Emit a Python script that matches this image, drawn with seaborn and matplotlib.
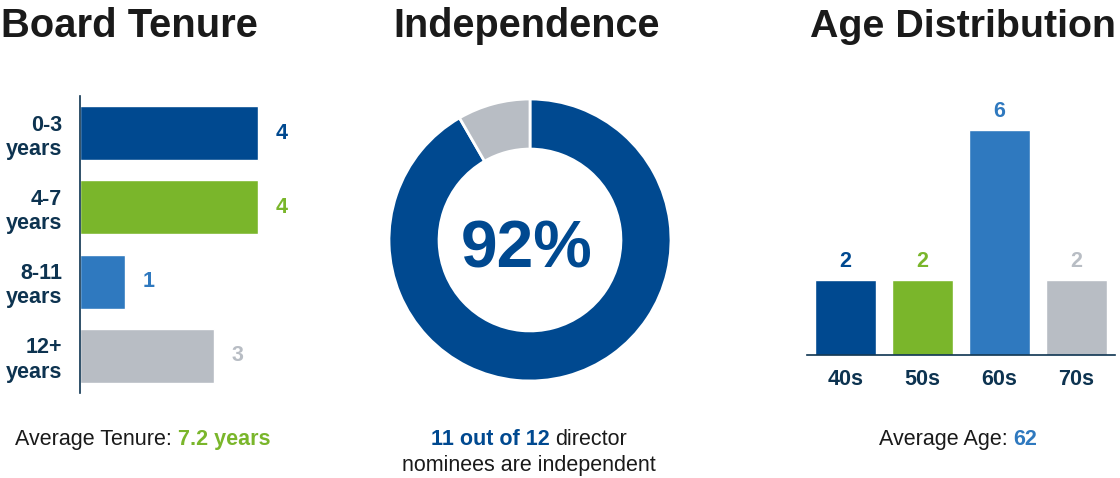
import matplotlib
matplotlib.use('Agg')
import matplotlib.pyplot as plt
import seaborn as sns

# data
tenure_labels = ['0-3\nyears', '4-7\nyears', '8-11\nyears', '12+\nyears']
tenure_counts = [4, 4, 1, 3]
age_labels = ['40s', '50s', '60s', '70s']
age_counts = [2, 2, 6, 2]
indep_labels = ['Independent', 'Not independent']
indep_counts = [11, 1]
avg_tenure = '7.2 years'
avg_age = '62'
indep_pct = '92%'

colors = ['#004990', '#7AB62B', '#2F79BF', '#B8BDC4']
navy = '#0D3350'
ink = '#1A1A1A'

sns.set_theme(style='white')
plt.rcParams['font.family'] = ['Liberation Sans', 'DejaVu Sans']

W, H = 1120, 478
fig = plt.figure(figsize=(W / 100, H / 100), dpi=100)
renderer = fig.canvas.get_renderer()


def px_axes(l, t, r, b):
    return fig.add_axes([l / W, 1 - b / H, (r - l) / W, (b - t) / H])


def ftext(x, y, s, **kw):
    return fig.text(x / W, 1 - y / H, s, **kw)


def fit_width(t, target, size):
    # shrink font until the text is as wide as in the reference
    t.set_fontsize(size)
    w = t.get_window_extent(renderer).width
    t.set_fontsize(size * target / w)


def rich_line(cx, y, parts, size):
    # parts: (text, weight, color, gap_before)
    texts = []
    for s, weight, color, gap in parts:
        t = ftext(0, y, s, fontsize=size, fontweight=weight, color=color,
                  va='baseline', ha='left')
        texts.append((t, gap))
    widths = [t.get_window_extent(renderer).width for t, _ in texts]
    gaps = [g * size * 100 / 72 for _, g in texts]
    total = sum(widths) + sum(gaps)
    x = cx - total / 2
    for (t, _), w, g in zip(texts, widths, gaps):
        x += g
        t.set_x(x / W)
        x += w


# titles
for cx, width, title in [(129, 257, 'Board Tenure'), (527, 267, 'Independence'),
                         (963, 307, 'Age Distribution')]:
    t = ftext(cx, 37, title, fontweight='bold', color=ink, ha='center', va='baseline')
    fit_width(t, width, 34)

# board tenure
ax1 = px_axes(80, 96, 330, 393)
sns.barplot(x=tenure_counts, y=tenure_labels, hue=tenure_labels, palette=colors,
            orient='h', width=0.727, saturation=1, legend=False, ax=ax1)
ax1.set_xlim(0, 250 / 44.5)
ax1.set_ylim(3.5, -0.5)
ax1.set_xlabel('')
ax1.set_ylabel('')
ax1.set_xticks([])
sns.despine(ax=ax1, top=True, right=True, bottom=True)
ax1.spines['left'].set_color(navy)
ax1.spines['left'].set_linewidth(1.2)
ax1.tick_params(axis='y', length=0, pad=13)
for lbl in ax1.get_yticklabels():
    lbl.set_fontsize(15.5)
    lbl.set_fontweight('bold')
    lbl.set_color(navy)
    lbl.set_linespacing(1.2)
for i, v in enumerate(tenure_counts):
    ax1.annotate(str(v), (v, i), xytext=(13, 0), textcoords='offset points',
                 ha='left', va='center', fontsize=15.5, fontweight='bold', color=colors[i])

# independence donut
ax2 = px_axes(389, 99, 671, 381)
ax2.pie(indep_counts, colors=[colors[0], colors[3]], startangle=90, counterclock=False,
        wedgeprops=dict(width=0.355, edgecolor='white', linewidth=2))
ax2.set_xlim(-1, 1)
ax2.set_ylim(-1, 1)
ax2.set_aspect('equal')
pct = ftext(527, 267, indep_pct, fontweight='bold', color=colors[0],
            ha='center', va='baseline')
fit_width(pct, 132, 50)

# age distribution
ax3 = px_axes(807, 100, 1115, 355)
sns.barplot(x=age_labels, y=age_counts, hue=age_labels, palette=colors,
            width=0.8, saturation=1, legend=False, ax=ax3)
ax3.set_ylim(0, 255 / 37.5)
ax3.set_xlabel('')
ax3.set_ylabel('')
ax3.set_yticks([])
sns.despine(ax=ax3, top=True, right=True, left=True)
ax3.spines['bottom'].set_color(navy)
ax3.spines['bottom'].set_linewidth(1.2)
ax3.tick_params(axis='x', length=0, pad=10)
for lbl in ax3.get_xticklabels():
    lbl.set_fontsize(15.5)
    lbl.set_fontweight('bold')
    lbl.set_color(navy)
for i, v in enumerate(age_counts):
    ax3.annotate(str(v), (i, v), xytext=(0, 6), textcoords='offset points',
                 ha='center', va='bottom', fontsize=15.5, fontweight='bold', color=colors[i])

# footers
rich_line(143, 445, [('Average Tenure:', 'normal', ink, 0),
                     (avg_tenure, 'bold', colors[1], 0.28)], 15.5)
rich_line(529, 445, [('11 out of 12', 'bold', colors[0], 0),
                     ('director', 'normal', ink, 0.28)], 15.5)
rich_line(529, 471, [('nominees are independent', 'normal', ink, 0)], 15.5)
rich_line(958, 445, [('Average Age:', 'normal', ink, 0),
                     (avg_age, 'bold', colors[2], 0.28)], 15.5)

fig.savefig('out.png', dpi=100)
